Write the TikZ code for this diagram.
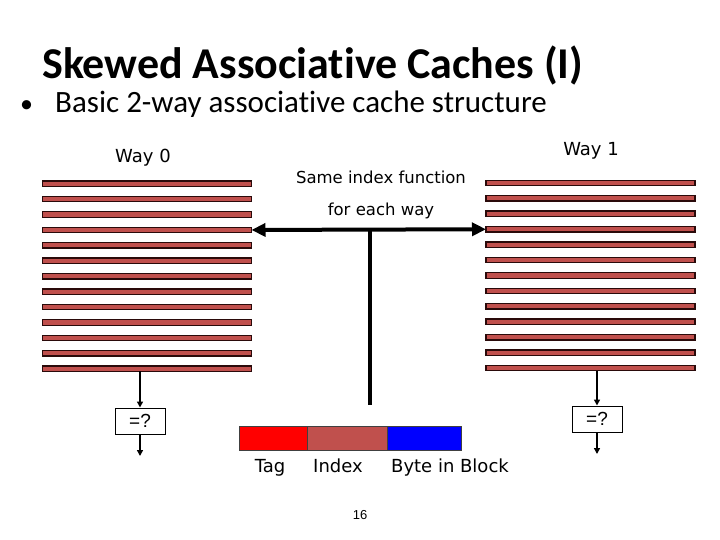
\documentclass[tikz,border=0pt]{standalone}
\usepackage{fontspec}
\setmainfont{Carlito}[Ligatures=NoCommon]
\newfontfamily\comicfont{DejaVu Sans}
\newfontfamily\arialfont{Liberation Sans}
\usetikzlibrary{arrows.meta,positioning,calc}
\definecolor{skBar}{HTML}{C0504D}
\definecolor{skEdge}{HTML}{2A0A0A}
\definecolor{skTag}{HTML}{FF0000}
\definecolor{skByte}{HTML}{0000FF}
\tikzset{
  blk/.style={draw=skEdge, line width=1.3pt, fill=skBar, minimum width=209pt, minimum height=5.4pt, inner sep=0pt, outer sep=0pt},
  fld/.style={draw=black!75, line width=0.8pt, minimum height=24pt, inner sep=0pt, outer sep=0pt},
  cmp/.style={draw=black, line width=1pt, minimum width=50pt, minimum height=26pt, inner sep=0pt, font=\arialfont\fontsize{19}{21}\selectfont},
  lbl/.style={font=\comicfont\fontsize{16.5}{18}\selectfont, inner sep=0pt, anchor=base},
  lblB/.style={lbl, font=\comicfont\fontsize{18}{20}\selectfont},
  arr/.style={-{Triangle[length=6pt,width=6pt]}, line width=2pt},
  dbl/.style={{Triangle[length=14pt,width=13pt]}-{Triangle[length=14pt,width=13pt]}, line width=4pt},
}
\begin{document}
\begin{tikzpicture}[x=1pt, y=-1pt, node distance=0pt]
  \useasboundingbox (0,0) rectangle (720,540);
  % heading
  \node[anchor=base west, inner sep=0pt, font=\bfseries\fontsize{44}{48}\selectfont] (title) at (42,79) {Skewed Associative Caches (I)};
  \node[anchor=base west, inner sep=0pt, font=\fontsize{31}{36}\selectfont] (sub) at (20,113) {\makebox[35pt][l]{\fontsize{26}{30}\selectfont•}Basic 2-way associative cache structure};
  % the two ways
  \foreach \i in {0,...,12} {
    \node[blk] (l\i) at (147,{183.7+\i*15.42}) {};
    \node[blk] (r\i) at (590.5,{183+\i*15.42}) {};
  }
  \node[lbl, font=\comicfont\fontsize{18}{20}\selectfont] (way0) at (143,163) {Way 0};
  \node[lbl, font=\comicfont\fontsize{18}{20}\selectfont] (way1) at (591,156) {Way 1};
  \node[lbl] (same) at (381,184) {Same index function};
  \node[lbl] (each) at (381,215) {for each way};
  % index goes to both ways
  \coordinate (stem) at ($(l3.east)!0.5!(r3.west)$);
  \coordinate (stemEnd) at (370,405);
  \draw[line width=4pt] (stem -| stemEnd) -- (stemEnd);
  \draw[dbl] (l3.east) -- (r3.west);
  % compare
  \node[cmp] (eqL) at (140,421) {=?};
  \node[cmp] (eqR) at (597,419) {=?};
  \coordinate (outL) at (140,456);
  \coordinate (outR) at (597,454);
  \draw[arr] (l12.south -| eqL) -- (eqL.north);
  \draw[arr] (r12.south -| eqR) -- (eqR.north);
  \draw[arr] (eqL.south) -- (outL);
  \draw[arr] (eqR.south) -- (outR);
  % address
  \node[fld, fill=skTag, minimum width=68pt] (tag) at (273.3,438) {};
  \node[fld, fill=skBar, minimum width=80pt, right=of tag] (idx) {};
  \node[fld, fill=skByte, minimum width=74pt, right=of idx] (byte) {};
  \node[lblB] (tagT) at (270,472) {Tag};
  \node[lblB] (idxT) at (338,472) {Index};
  \node[lblB] (byteT) at (450,472) {Byte in Block};
  \node[inner sep=0pt, font=\arialfont\fontsize{13}{15}\selectfont] (page) at (360,515) {16};
\end{tikzpicture}
\end{document}
